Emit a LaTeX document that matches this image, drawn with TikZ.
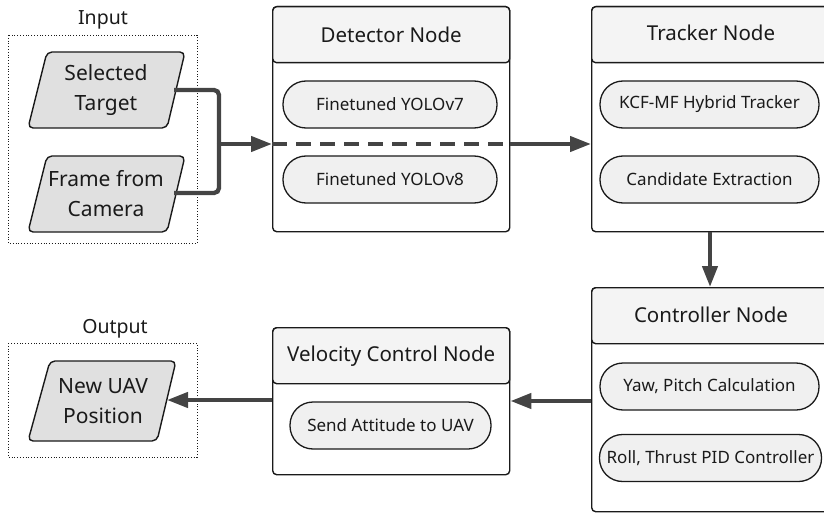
\documentclass[tikz,border=0pt]{standalone}
\usepackage{fontspec}
\setmainfont{Noto Sans}
\usetikzlibrary{arrows.meta,calc}
\definecolor{arr}{HTML}{444444}
\definecolor{hdr}{HTML}{F4F4F4}
\definecolor{pillc}{HTML}{F0F0F0}
\definecolor{parac}{HTML}{E0E0E0}
\definecolor{ink}{HTML}{1A1A1A}
\begin{document}
\begin{tikzpicture}[x=1pt,y=-1pt,
  outerbox/.style={draw=ink,line width=1.4pt,rounded corners=4pt,fill=white,anchor=north west,inner sep=0pt},
  hdrbox/.style={draw=ink,line width=1.4pt,rounded corners=4pt,fill=hdr,anchor=north west,inner sep=0pt,minimum height=56pt},
  titletext/.style={font=\fontsize{20.5}{22}\selectfont,text=ink},
  pillbox/.style={draw=ink,line width=1.3pt,fill=pillc,rounded corners=23pt,minimum height=47pt,inner sep=0pt,font=\fontsize{17}{19}\selectfont,text=ink},
  paratext/.style={font=\fontsize{21}{30}\selectfont,text=ink,align=center,inner sep=0pt},
  parashape/.style={draw=ink,line width=1.4pt,fill=parac,rounded corners=5pt},
  grpbox/.style={draw=ink,line width=0.8pt,dotted},
  grplabel/.style={font=\fontsize{19.5}{21}\selectfont,text=ink},
  flow/.style={draw=arr,line width=4.3pt,-{Triangle[length=21pt,width=15pt]}},
  flowplain/.style={draw=arr,line width=4.3pt,rounded corners=5pt}
]
\useasboundingbox (0,0) rectangle (824,513);

% ---------- Input group ----------
\node[grplabel] (inlabel) at (103,20) {Input};
\draw[grpbox] (8,35) rectangle (197,243);
\draw[parashape] (47,52) -- (185,52) -- (167,128) -- (28,128) -- cycle;
\node[paratext] (sel) at (106,90) {Selected\\Target};
\coordinate (selout) at (174,90);
\draw[parashape] (47,156) -- (185,156) -- (167,232) -- (28,232) -- cycle;
\node[paratext] (frame) at (106,194) {Frame from\\Camera};
\coordinate (frameout) at (174,193);
\coordinate (junc) at (219,144);

% ---------- Output group ----------
\node[grplabel] (outlabel) at (115,329) {Output};
\draw[grpbox] (8,343) rectangle (197,457);
\draw[parashape] (50,361) -- (176,361) -- (157,441) -- (28,441) -- cycle;
\node[paratext] (uav) at (103,401) {New UAV\\Position};
\coordinate (uavin) at (167,400);

% ---------- Detector ----------
\node[outerbox,minimum width=237pt,minimum height=225pt] (det) at (272,6) {};
\node[hdrbox,minimum width=237pt] (deth) at (272,6) {};
\node[titletext] (dett) at (deth.center) {Detector Node};
\node[pillbox,minimum width=214pt] (y7) at (390,104.5) {Finetuned YOLOv7};
\node[pillbox,minimum width=214pt] (y8) at (390,179.5) {Finetuned YOLOv8};

% ---------- Tracker ----------
\node[outerbox,minimum width=240pt,minimum height=225pt] (trk) at (591,6) {};
\node[hdrbox,minimum width=240pt] (trkh) at (591,6) {};
\node[titletext] (trkt) at (711,33) {Tracker Node};
\node[pillbox,minimum width=219pt] (kcf) at (709.5,104.5) {KCF-MF Hybrid Tracker};
\node[pillbox,minimum width=219pt] (cand) at (709.5,179.5) {Candidate Extraction};

% ---------- Controller ----------
\node[outerbox,minimum width=240pt,minimum height=224pt] (ctl) at (591,287) {};
\node[hdrbox,minimum width=240pt] (ctlh) at (591,287) {};
\node[titletext] (ctlt) at (711,315) {Controller Node};
\node[pillbox,minimum width=219pt] (yaw) at (709.5,386.5) {Yaw, Pitch Calculation};
\node[pillbox,minimum width=222pt] (roll) at (710.5,458) {Roll, Thrust PID Controller};

% ---------- Velocity ----------
\node[outerbox,minimum width=237pt,minimum height=147pt] (vel) at (272,327) {};
\node[hdrbox,minimum width=237pt] (velh) at (272,327) {};
\node[titletext] (velt) at (velh.center) {Velocity Control Node};
\node[pillbox,minimum width=201pt] (send) at (390.5,425.5) {Send Attitude to UAV};

% ---------- Connectors ----------
\draw[flowplain] (selout) -| (junc);
\draw[flowplain] (frameout) -| (junc);
\draw[flow] (junc) -- (det.west |- junc);
\draw[draw=arr,line width=4.3pt,dash pattern=on 15pt off 9pt] (det.west |- junc) -- (det.east |- junc);
\draw[flow] (det.east |- junc) -- (trk.west |- junc);
\draw[flow] (trk.south -| 710,0) -- (ctl.north -| 710,0);
\draw[flow] (ctl.west |- 0,401) -- (vel.east |- 0,401);
\draw[flow] (vel.west |- 0,400) -- (uavin);
\end{tikzpicture}
\end{document}
